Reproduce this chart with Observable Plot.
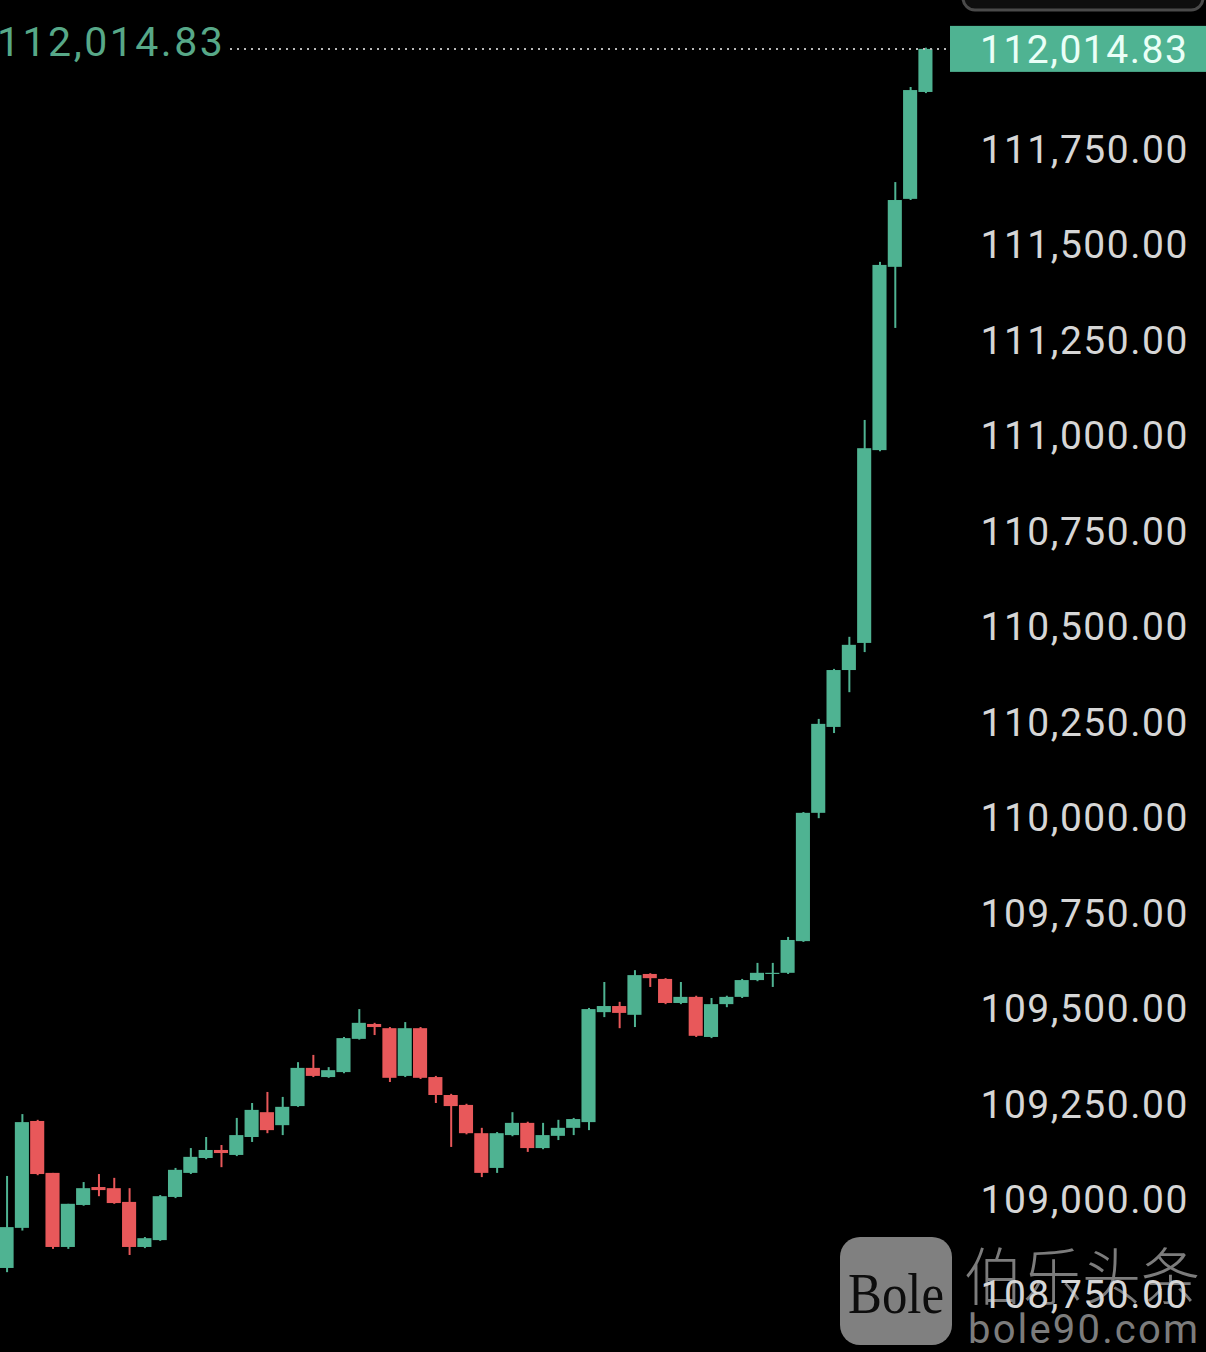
<!DOCTYPE html>
<html><head><meta charset="utf-8">
<script src="https://cdn.jsdelivr.net/npm/d3@7"></script>
<script src="https://cdn.jsdelivr.net/npm/@observablehq/plot@0.6"></script>
<style>html,body{margin:0;padding:0;background:#000;overflow:hidden;}</style>
</head><body><div id="chart"></div>
<script>
const opens = [108822,108927,109207,109071,108877,108987,109034,109031,108995,108877,
  108895,109008,109071,109110,109131,109118,109165,109230,109196,109246,
  109346,109322,109335,109422,109461,109450,109325,109450,109322,109275,
  109249,109175,109084,109170,109202,109136,109168,109189,109204,109492,
  109508,109485,109592,109579,109516,109532,109427,109513,109532,109576,
  109592,109595,109678,110014,110239,110388,110459,110964,111444,111622,111902];
const highs = [109063,109225,109210,109071,108990,109047,109068,109058,109031,108903,
  109013,109084,109136,109165,109144,109215,109254,109283,109270,109361,
  109380,109348,109427,109500,109464,109453,109466,109453,109325,109278,
  109252,109189,109178,109230,109205,109202,109210,109215,109503,109571,
  109519,109602,109594,109581,109571,109535,109529,109535,109579,109621,
  109621,109689,110016,110260,110391,110475,111043,111457,111666,111915,112018];
const lows = [108811,108920,109065,108872,108872,108985,109010,108990,108856,108874,
  108893,109005,109068,109107,109086,109115,109152,109175,109170,109244,
  109322,109320,109332,109420,109432,109309,109322,109317,109254,109139,
  109172,109060,109071,109167,109126,109133,109157,109170,109183,109479,
  109450,109453,109558,109513,109513,109427,109424,109505,109529,109573,
  109558,109592,109676,110000,110223,110330,110435,110961,111284,111619,111899];
const closes = [108929,109204,109068,108877,108990,109031,109026,108992,108877,108900,
  109010,109079,109113,109131,109123,109170,109236,109183,109244,109346,
  109325,109340,109424,109464,109453,109320,109450,109320,109275,109246,
  109175,109071,109175,109202,109136,109170,109189,109212,109500,109508,
  109490,109589,109581,109516,109532,109430,109513,109532,109576,109595,
  109595,109681,110014,110247,110388,110454,110969,111449,111619,111907,112014.83];
const yTicks = [108750,109000,109250,109500,109750,110000,110250,110500,110750,111000,111250,111500,111750];
const lastPrice = 112014.83;

const UP = "#4fb392", DOWN = "#e8585a";
const data = opens.map((o, i) => ({i, open: o, high: highs[i], low: lows[i], close: closes[i]}));
const col = d => d.close >= d.open ? UP : DOWN;
const fmt = d3.format(",.2f");

const plot = Plot.plot({
  width: 1206, height: 1352,
  marginLeft: 0, marginRight: 272, marginTop: 0, marginBottom: 0,
  style: {background: "#000", color: "#d6d6d6", fontFamily: "Roboto, sans-serif", fontSize: "39px", letterSpacing: "1.5px", overflow: "visible"},
  x: {type: "band", domain: d3.range(data.length), range: [-1.7, 933.7], padding: 0.08, round: false, axis: null},
  y: {domain: [109000, 111750], range: [1200, 150], axis: "right", ticks: yTicks, tickFormat: fmt, tickSize: 0, tickPadding: 46, label: null},
  marks: [
    Plot.ruleX(data, {x: "i", y1: "low", y2: "high", stroke: col, strokeWidth: 2}),
    Plot.barY(data, {x: "i", y1: "open", y2: "close", fill: col})
  ]
});

const svg = d3.select(plot);
const y = plot.scale("y");
const yl = y.apply(lastPrice);

// watermark beneath axis labels
const wm = svg.insert("g", "g").attr("text-anchor", "start");
wm.append("rect").attr("x", 840).attr("y", 1237).attr("width", 112).attr("height", 108).attr("rx", 20).attr("fill", "#808080");
wm.append("text").attr("x", 848).attr("y", 1313).attr("font-family", "Liberation Serif, DejaVu Serif, serif")
  .attr("font-size", 56).attr("letter-spacing", 0).attr("fill", "#0d0d0d").attr("textLength", 96).attr("lengthAdjust", "spacingAndGlyphs").text("Bole");
wm.append("text").attr("x", 964).attr("y", 1300).attr("font-family", "Noto Sans CJK SC, sans-serif").attr("font-weight", 300)
  .attr("font-size", 62).attr("letter-spacing", 0).attr("fill", "#7c7c7c").attr("textLength", 236).attr("lengthAdjust", "spacingAndGlyphs").text("伯乐头条");
wm.append("text").attr("x", 968).attr("y", 1343).attr("font-family", "Roboto, sans-serif")
  .attr("font-size", 40).attr("letter-spacing", 0).attr("fill", "#7c7c7c").attr("textLength", 230).attr("lengthAdjust", "spacing").text("bole90.com");

// top-right rounded outline
svg.append("rect").attr("x", 963).attr("y", -30).attr("width", 240).attr("height", 40).attr("rx", 12)
  .attr("fill", "#0e0e0e").attr("stroke", "#4a4a4a").attr("stroke-width", 3);

// dotted last-price line
svg.append("line").attr("x1", 230).attr("x2", 950).attr("y1", yl).attr("y2", yl)
  .attr("stroke", "#b8b8b8").attr("stroke-width", 2).attr("stroke-dasharray", "2,5");

// left last-price label
svg.append("text").attr("x", -3).attr("y", yl).attr("dy", "0.18em").attr("text-anchor", "start").attr("fill", "#57a888")
  .attr("font-size", 41).attr("letter-spacing", "2.5px").text(fmt(lastPrice));

// right price tag
svg.append("rect").attr("x", 950).attr("y", yl - 23).attr("width", 256).attr("height", 46).attr("fill", UP);
svg.append("text").attr("x", 980).attr("y", yl).attr("dy", "0.35em").attr("text-anchor", "start").attr("fill", "#eafff7")
  .attr("font-size", 39).text(fmt(lastPrice));

document.getElementById("chart").appendChild(plot);
</script>
</body></html>
